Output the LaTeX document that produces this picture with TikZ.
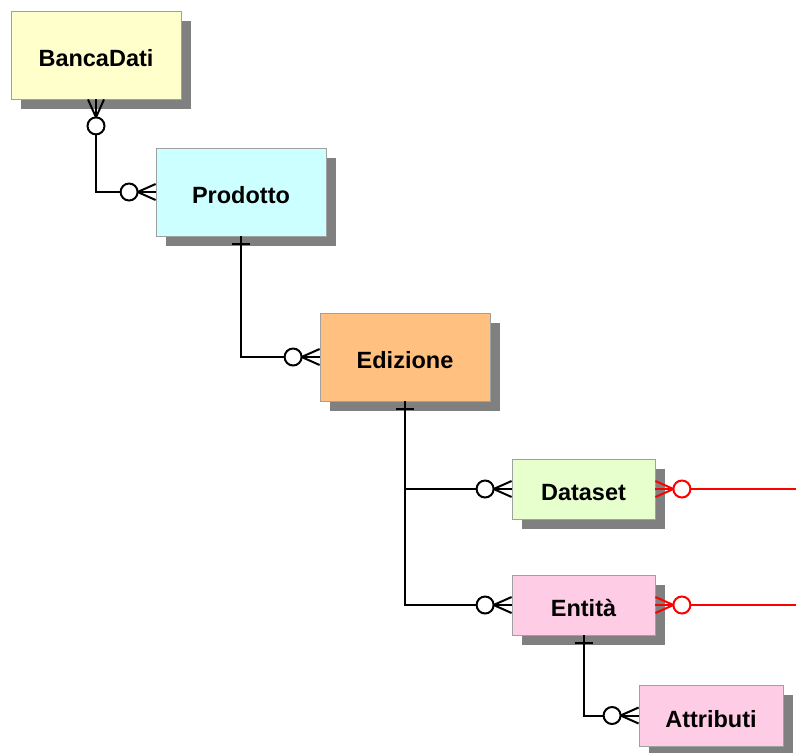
\documentclass[tikz,border=0pt]{standalone}
\usepackage{fontspec}
\setmainfont{Liberation Sans}
\usetikzlibrary{shadows}
\definecolor{cBanca}{HTML}{FFFFCC}
\definecolor{cProd}{HTML}{CCFFFF}
\definecolor{cEdiz}{HTML}{FFC080}
\definecolor{cData}{HTML}{E6FFCC}
\definecolor{cEnt}{HTML}{FFCCE6}
\definecolor{cShadow}{HTML}{808080}
\definecolor{cBorder}{HTML}{A0A0A0}
\definecolor{cRed}{HTML}{FF0000}
\tikzset{
  entity/.style={draw=cBorder, line width=0.8pt, inner sep=0pt,
    text height=23pt, text depth=0pt,
    font=\fontsize{23.5}{28}\selectfont\bfseries,
    drop shadow={shadow xshift=10pt, shadow yshift=-10pt, fill=cShadow, opacity=1, draw=none}},
  bigbox/.style={entity, minimum width=170pt, minimum height=88pt},
  smallbox/.style={entity, minimum width=143pt, minimum height=60pt},
  conn/.style={line width=2pt, draw=black},
  redconn/.style={line width=2pt, draw=cRed}
}
\newcommand\crowwest[2][conn]{%
  \draw[#1] ([yshift=8pt]#2.west) -- ([xshift=-18pt]#2.west) -- ([yshift=-8pt]#2.west);
  \draw[#1] (#2.west) -- ([xshift=-18pt]#2.west);
  \draw[#1, fill=white] ([xshift=-26.5pt]#2.west) circle (8.5pt);}
\newcommand\creweast[2][redconn]{%
  \draw[#1] ([yshift=8pt]#2.east) -- ([xshift=18pt]#2.east) -- ([yshift=-8pt]#2.east);
  \draw[#1] (#2.east) -- ([xshift=18pt]#2.east);
  \draw[#1, fill=white] ([xshift=26.5pt]#2.east) circle (8.5pt);}
\newcommand\onebar[1]{%
  \draw[conn] ([xshift=-9pt,yshift=-8pt]#1.south) -- ([xshift=9pt,yshift=-8pt]#1.south);}
\begin{document}
\begin{tikzpicture}[x=1pt,y=-1pt]
\useasboundingbox (0,0) rectangle (796,753);
\node[bigbox, fill=cBanca] (bd) at (96,55) {BancaDati};
\node[bigbox, fill=cProd] (pr) at (241,192) {Prodotto};
\node[bigbox, fill=cEdiz] (ed) at (405,357) {Edizione};
\node[smallbox, fill=cData] (ds) at (583.5,489) {Dataset};
\node[smallbox, fill=cEnt] (en) at (583.5,605) {Entità};
\node[smallbox, fill=cEnt, minimum width=144pt, minimum height=61pt] (at) at (711,715.5) {Attributi};
\coordinate (dsend) at (796,489);
\coordinate (enend) at (796,605);
% BancaDati - Prodotto
\draw[conn] ([yshift=-35pt]bd.south) |- ([xshift=-35pt]pr.west);
\draw[conn] ([xshift=-8pt]bd.south) -- ([yshift=-18pt]bd.south) -- ([xshift=8pt]bd.south);
\draw[conn] (bd.south) -- ([yshift=-18pt]bd.south);
\draw[conn, fill=white] ([yshift=-26.5pt]bd.south) circle (8.5pt);
\crowwest{pr}
% Prodotto - Edizione
\draw[conn] (pr.south) |- ([xshift=-35pt]ed.west);
\onebar{pr}
\crowwest{ed}
% Edizione - Dataset / Entita
\draw[conn] (ed.south) |- ([xshift=-35pt]en.west);
\draw[conn] (ed.south |- ds.west) -- ([xshift=-35pt]ds.west);
\onebar{ed}
\crowwest{ds}
\crowwest{en}
% Entita - Attributi
\draw[conn] (en.south) |- ([xshift=-35pt]at.west);
\onebar{en}
\crowwest{at}
% red outgoing
\draw[redconn] ([xshift=35pt]ds.east) -- (dsend);
\draw[redconn] ([xshift=35pt]en.east) -- (enend);
\creweast{ds}
\creweast{en}
\end{tikzpicture}
\end{document}
